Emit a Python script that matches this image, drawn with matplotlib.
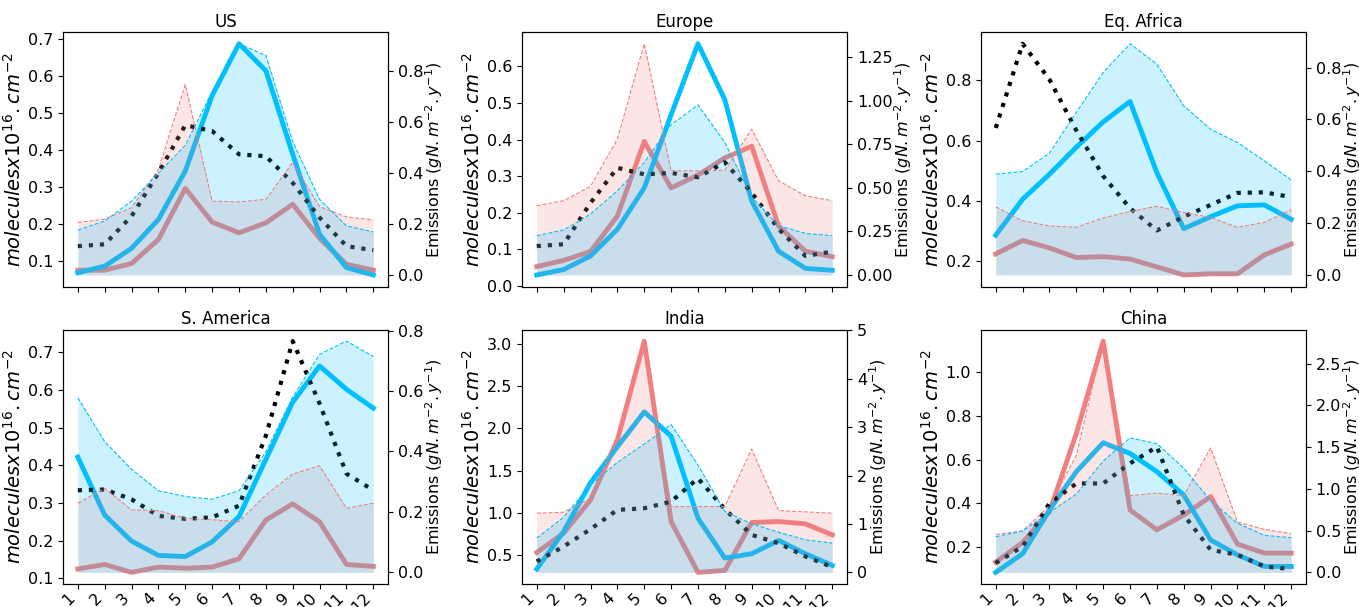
import numpy as np
import matplotlib
matplotlib.use('Agg')
import matplotlib.pyplot as plt

months = np.arange(1, 13)
regions = ['US', 'Europe', 'Eq. Africa', 'S. America', 'India', 'China']

# columns (left axis)
obs = {
    'US':         [0.140, 0.145, 0.221, 0.338, 0.467, 0.451, 0.388, 0.383, 0.311, 0.217, 0.140, 0.129],
    'Europe':     [0.109, 0.114, 0.227, 0.323, 0.305, 0.309, 0.297, 0.338, 0.255, 0.156, 0.082, 0.094],
    'Eq. Africa': [0.642, 0.922, 0.803, 0.634, 0.482, 0.375, 0.301, 0.347, 0.386, 0.426, 0.428, 0.412],
    'S. America': [0.334, 0.336, 0.310, 0.266, 0.258, 0.262, 0.293, 0.479, 0.730, 0.564, 0.378, 0.334],
    'India':      [0.429, 0.606, 0.810, 1.038, 1.057, 1.136, 1.410, 1.046, 0.743, 0.645, 0.488, 0.362],
    'China':      [0.127, 0.203, 0.400, 0.491, 0.491, 0.583, 0.658, 0.347, 0.188, 0.165, 0.112, 0.100],
}
mod_red = {
    'US':         [0.075, 0.075, 0.093, 0.158, 0.296, 0.205, 0.176, 0.203, 0.253, 0.161, 0.091, 0.075],
    'Europe':     [0.053, 0.070, 0.094, 0.191, 0.395, 0.268, 0.303, 0.350, 0.382, 0.164, 0.095, 0.080],
    'Eq. Africa': [0.223, 0.268, 0.243, 0.211, 0.214, 0.206, 0.180, 0.153, 0.157, 0.157, 0.220, 0.256],
    'S. America': [0.125, 0.137, 0.116, 0.130, 0.127, 0.130, 0.152, 0.255, 0.298, 0.250, 0.137, 0.132],
    'India':      [0.535, 0.763, 1.155, 1.862, 3.031, 0.900, 0.300, 0.323, 0.889, 0.900, 0.873, 0.743],
    'China':      [0.132, 0.221, 0.362, 0.719, 1.141, 0.370, 0.279, 0.347, 0.431, 0.214, 0.173, 0.173],
}
mod_blue = {
    'US':         [0.068, 0.086, 0.134, 0.212, 0.343, 0.547, 0.687, 0.614, 0.388, 0.172, 0.082, 0.062],
    'Europe':     [0.030, 0.045, 0.082, 0.155, 0.268, 0.468, 0.662, 0.509, 0.232, 0.095, 0.048, 0.043],
    'Eq. Africa': [0.285, 0.405, 0.488, 0.578, 0.662, 0.730, 0.493, 0.307, 0.347, 0.383, 0.386, 0.338],
    'S. America': [0.422, 0.268, 0.199, 0.161, 0.158, 0.197, 0.264, 0.416, 0.568, 0.664, 0.602, 0.552],
    'India':      [0.339, 0.783, 1.360, 1.783, 2.195, 1.909, 0.940, 0.469, 0.520, 0.677, 0.520, 0.382],
    'China':      [0.085, 0.170, 0.370, 0.545, 0.677, 0.628, 0.545, 0.438, 0.233, 0.165, 0.112, 0.112],
}
# emissions (right axis)
emi_red = {
    'US':         [0.206, 0.219, 0.264, 0.414, 0.748, 0.290, 0.287, 0.297, 0.442, 0.268, 0.228, 0.216],
    'Europe':     [0.397, 0.426, 0.508, 0.779, 1.326, 0.597, 0.597, 0.601, 0.836, 0.540, 0.454, 0.426],
    'Eq. Africa': [0.263, 0.209, 0.189, 0.184, 0.220, 0.245, 0.265, 0.241, 0.222, 0.184, 0.203, 0.252],
    'S. America': [0.229, 0.278, 0.207, 0.204, 0.179, 0.174, 0.168, 0.256, 0.325, 0.353, 0.212, 0.229],
    'India':      [1.223, 1.243, 1.532, 2.840, 4.780, 1.360, 1.360, 1.360, 2.548, 1.277, 1.250, 1.223],
    'China':      [0.455, 0.495, 0.797, 1.401, 2.770, 0.918, 0.950, 0.918, 1.490, 0.604, 0.515, 0.463],
}
emi_blue = {
    'US':         [0.176, 0.212, 0.290, 0.400, 0.509, 0.720, 0.908, 0.862, 0.524, 0.297, 0.193, 0.169],
    'Europe':     [0.225, 0.258, 0.349, 0.483, 0.645, 0.861, 0.975, 0.760, 0.448, 0.282, 0.239, 0.225],
    'Eq. Africa': [0.389, 0.399, 0.470, 0.627, 0.781, 0.892, 0.813, 0.652, 0.562, 0.511, 0.440, 0.367],
    'S. America': [0.578, 0.432, 0.341, 0.270, 0.251, 0.242, 0.270, 0.399, 0.580, 0.721, 0.765, 0.714],
    'India':      [0.707, 1.140, 1.806, 2.273, 2.651, 3.056, 2.218, 1.257, 1.003, 0.831, 0.673, 0.604],
    'China':      [0.427, 0.495, 0.717, 0.938, 1.333, 1.610, 1.542, 1.248, 0.858, 0.588, 0.443, 0.415],
}

fig, axes = plt.subplots(2, 3, figsize=(13.59, 6.07), dpi=100, sharex=True)
fig.subplots_adjust(left=0.0464, right=0.961, top=0.947, bottom=0.038,
                    wspace=0.412, hspace=0.169)

for ax, reg in zip(axes.flat, regions):
    ax.plot(months, mod_red[reg], color='lightcoral', lw=3.5)
    ax.plot(months, mod_blue[reg], color='deepskyblue', lw=3.5)
    ax.plot(months, obs[reg], color='black', lw=3, ls=':')
    ax.set_title(reg, fontsize=12, pad=4)
    ax.set_ylabel(r'$molecules x10^{16}.cm^{-2}$', fontsize=14, labelpad=2)
    ax.tick_params(labelsize=11.5)

    ax2 = ax.twinx()
    ax2.fill_between(months, 0, emi_red[reg], color='lightcoral', alpha=0.2, lw=0)
    ax2.plot(months, emi_red[reg], color='lightcoral', lw=0.8, ls='--')
    ax2.fill_between(months, 0, emi_blue[reg], color='deepskyblue', alpha=0.2, lw=0)
    ax2.plot(months, emi_blue[reg], color='deepskyblue', lw=0.8, ls='--')
    ax2.set_ylabel(r'Emissions ($gN.m^{-2}.y^{-1}$)', fontsize=11.5, labelpad=0)
    ax2.tick_params(labelsize=11.5)

axes[0, 0].set_xticks(months)
for ax in axes[1]:
    ax.set_xticks(months)
    ax.set_xticklabels([str(m) for m in months], rotation=45, ha='right')
    ax.tick_params(axis='x', pad=1)

fig.savefig('out.png')
